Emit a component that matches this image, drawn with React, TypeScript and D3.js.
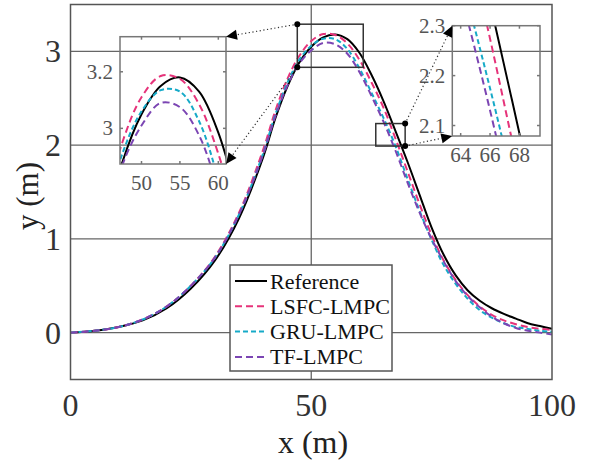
import React from "react";
import * as d3 from "d3";

const xs = [0,5,10,15,20,25,30,35,40,42.5,45,47.5,50,52.5,55,57.5,60,62.5,65,67.5,70,72.5,75,77.5,80,82.5,85,87.5,90,92.5,95,97.5,100];
const refY = [0,0.02,0.06,0.13,0.26,0.47,0.77,1.22,1.87,2.28,2.62,2.88,3.05,3.15,3.18,3.13,2.985,2.75,2.47,2.15,1.82,1.47,1.12,0.83,0.61,0.45,0.34,0.26,0.2,0.15,0.1,0.07,0.04];
const lsfcY = [0,0.02,0.06,0.14,0.28,0.5,0.81,1.28,1.95,2.36,2.7,2.95,3.11,3.185,3.175,3.085,2.91,2.67,2.4,2.07,1.72,1.37,1.04,0.77,0.56,0.4,0.28,0.19,0.13,0.09,0.06,0.04,0.03];
const gruY = [0,0.02,0.06,0.14,0.28,0.5,0.8,1.26,1.91,2.32,2.66,2.91,3.06,3.135,3.13,3.025,2.82,2.56,2.29,1.99,1.64,1.3,0.99,0.72,0.52,0.36,0.24,0.16,0.1,0.06,0.04,0.02,0.01];
const tfY = [0,0.02,0.06,0.14,0.28,0.5,0.8,1.26,1.9,2.3,2.63,2.87,3.01,3.09,3.075,2.975,2.78,2.525,2.25,1.94,1.6,1.28,1.0,0.76,0.55,0.39,0.27,0.17,0.1,0.05,0.02,0.0,-0.02];

const seriesNames = ["Reference", "LSFC-LMPC", "GRU-LMPC", "TF-LMPC"];
const seriesColors = ["#000000", "#e6337a", "#16aac8", "#7b45b3"];
const seriesDash = ["", "7 4", "5 3", "7 4"];
const seriesData = [refY, lsfcY, gruY, tfY];

const xTicks = [0, 50, 100];
const yTicks = [0, 1, 2, 3];
const xDomain = [0, 100];
const yDomain = [-0.5, 3.5];

// zoom windows: [x0, x1, y0, y1]
const zoom1Src = [47.1, 60.8, 2.83, 3.29];
const zoom1Dom = [47.2, 61, 2.874, 3.324];
const zoom1XTicks = [50, 55, 60];
const zoom1YTicks = [3, 3.2];
const zoom2Src = [63.4, 69.5, 1.99, 2.23];
const zoom2Dom = [63.43, 69.4, 2.079, 2.3];
const zoom2XTicks = [64, 66, 68];
const zoom2YTicks = [2.1, 2.2, 2.3];

const W = 592, H = 465;
const M = { left: 70.5, right: 552, top: 4.5, bottom: 379.5 };
const inset1Box = { left: 120, right: 226, top: 36.7, bottom: 164 };
const inset2Box = { left: 452.3, right: 540, top: 25.7, bottom: 136 };

const serif = "'Liberation Serif', 'DejaVu Serif', serif";

function Inset({ id, box, dom, xT, yT }: any) {
  const sx = d3.scaleLinear().domain([dom[0], dom[1]]).range([box.left, box.right]);
  const sy = d3.scaleLinear().domain([dom[2], dom[3]]).range([box.bottom, box.top]);
  const line = d3.line<number>().x((_, i) => sx(xs[i])).y((d) => sy(d)).curve(d3.curveCatmullRom.alpha(0.5));
  return (
    <g>
      <clipPath id={id}>
        <rect x={box.left} y={box.top} width={box.right - box.left} height={box.bottom - box.top} />
      </clipPath>
      <g clipPath={`url(#${id})`}>
        {seriesData.map((s, k) => (
          <path key={k} d={line(s) || ""} fill="none" stroke={seriesColors[k]} strokeWidth={2} strokeDasharray={seriesDash[k]} />
        ))}
      </g>
      <rect x={box.left} y={box.top} width={box.right - box.left} height={box.bottom - box.top} fill="none" stroke="#777" strokeWidth={1.5} />
      {xT.map((t: number) => (
        <g key={"x" + t}>
          <line x1={sx(t)} x2={sx(t)} y1={box.bottom} y2={box.bottom - 3} stroke="#777" strokeWidth={1.5} />
          <line x1={sx(t)} x2={sx(t)} y1={box.top} y2={box.top + 3} stroke="#777" strokeWidth={1.5} />
          <text x={sx(t)} y={box.bottom + 26} fontSize={21} fontFamily={serif} fill="#555" textAnchor="middle">{t}</text>
        </g>
      ))}
      {yT.map((t: number) => (
        <g key={"y" + t}>
          <line x1={box.left} x2={box.left + 3} y1={sy(t)} y2={sy(t)} stroke="#777" strokeWidth={1.5} />
          <line x1={box.right} x2={box.right - 3} y1={sy(t)} y2={sy(t)} stroke="#777" strokeWidth={1.5} />
          <text x={box.left - 7} y={sy(t) + 7} fontSize={21} fontFamily={serif} fill="#555" textAnchor="end">{t}</text>
        </g>
      ))}
    </g>
  );
}

function Connector({ x1, y1, x2, y2 }: any) {
  const ang = Math.atan2(y2 - y1, x2 - x1);
  const L = 11, Wd = 5;
  const bx = x2 - L * Math.cos(ang), by = y2 - L * Math.sin(ang);
  const px = -Math.sin(ang) * Wd, py = Math.cos(ang) * Wd;
  return (
    <g>
      <line x1={x1} y1={y1} x2={bx} y2={by} stroke="#333" strokeWidth={1.2} strokeDasharray="1.2 2.5" />
      <circle cx={x1} cy={y1} r={3} fill="#000" />
      <path d={`M${x2},${y2}L${bx + px},${by + py}L${bx - px},${by - py}Z`} fill="#000" />
    </g>
  );
}

export default function App() {
  const x = d3.scaleLinear().domain(xDomain).range([M.left, M.right]);
  const y = d3.scaleLinear().domain(yDomain).range([M.bottom, M.top]);
  const line = d3.line<number>().x((_, i) => x(xs[i])).y((d) => y(d)).curve(d3.curveCatmullRom.alpha(0.5));

  const r1 = { x0: x(zoom1Src[0]), x1: x(zoom1Src[1]), yTop: y(zoom1Src[3]), yBot: y(zoom1Src[2]) };
  const r2 = { x0: x(zoom2Src[0]), x1: x(zoom2Src[1]), yTop: y(zoom2Src[3]), yBot: y(zoom2Src[2]) };

  const legX = 230, legY = 265, legW = 162, legH = 106;

  return (
    <svg width={W} height={H} style={{ position: "absolute", left: 0, top: 0, background: "#fff" }}>
      <rect x={0} y={0} width={W} height={H} fill="#fff" />
      <clipPath id="mainclip">
        <rect x={M.left} y={M.top} width={M.right - M.left} height={M.bottom - M.top} />
      </clipPath>
      {yTicks.map((t) => (
        <line key={"gy" + t} x1={M.left} x2={M.right} y1={y(t)} y2={y(t)} stroke="#666" strokeWidth={1.3} />
      ))}
      {xTicks.slice(1, -1).map((t) => (
        <line key={"gx" + t} x1={x(t)} x2={x(t)} y1={M.top} y2={M.bottom} stroke="#666" strokeWidth={1.3} />
      ))}
      <g clipPath="url(#mainclip)">
        {seriesData.map((s, k) => (
          <path key={k} d={line(s) || ""} fill="none" stroke={seriesColors[k]} strokeWidth={2} strokeDasharray={seriesDash[k]} />
        ))}
      </g>
      <rect x={M.left} y={M.top} width={M.right - M.left} height={M.bottom - M.top} fill="none" stroke="#555" strokeWidth={1.5} />
      {xTicks.map((t) => (
        <text key={"xt" + t} x={x(t)} y={416} fontSize={32} fontFamily={serif} fill="#333" textAnchor="middle">{t}</text>
      ))}
      {yTicks.map((t) => (
        <text key={"yt" + t} x={61} y={y(t) + 11} fontSize={32} fontFamily={serif} fill="#333" textAnchor="end">{t}</text>
      ))}
      <text x={313} y={453} fontSize={32} fontFamily={serif} fill="#222" textAnchor="middle">x (m)</text>
      <text transform="translate(38,196) rotate(-90)" fontSize={31} fontFamily={serif} fill="#222" textAnchor="middle">y (m)</text>

      <rect x={r1.x0} y={r1.yTop} width={r1.x1 - r1.x0} height={r1.yBot - r1.yTop} fill="none" stroke="#333" strokeWidth={1.5} />
      <rect x={r2.x0} y={r2.yTop} width={r2.x1 - r2.x0} height={r2.yBot - r2.yTop} fill="none" stroke="#333" strokeWidth={1.5} />

      <Inset id="in1" box={inset1Box} dom={zoom1Dom} xT={zoom1XTicks} yT={zoom1YTicks} />
      <Inset id="in2" box={inset2Box} dom={zoom2Dom} xT={zoom2XTicks} yT={zoom2YTicks} />

      <Connector x1={r1.x0} y1={r1.yTop} x2={inset1Box.right} y2={inset1Box.top} />
      <Connector x1={r1.x0} y1={r1.yBot} x2={inset1Box.right} y2={inset1Box.bottom} />
      <Connector x1={r2.x1} y1={r2.yTop} x2={inset2Box.left} y2={inset2Box.top} />
      <Connector x1={r2.x1} y1={r2.yBot} x2={inset2Box.left} y2={inset2Box.bottom} />

      <rect x={legX} y={legY} width={legW} height={legH} fill="#fff" stroke="#555" strokeWidth={1.5} />
      {seriesNames.map((n, k) => {
        const cy = 281 + k * 25.3;
        return (
          <g key={n}>
            <line x1={235} x2={267} y1={cy} y2={cy} stroke={seriesColors[k]} strokeWidth={2} strokeDasharray={seriesDash[k]} />
            <text x={270} y={cy + 7.5} fontSize={22} fontFamily={serif} fill="#111">{n}</text>
          </g>
        );
      })}
    </svg>
  );
}
